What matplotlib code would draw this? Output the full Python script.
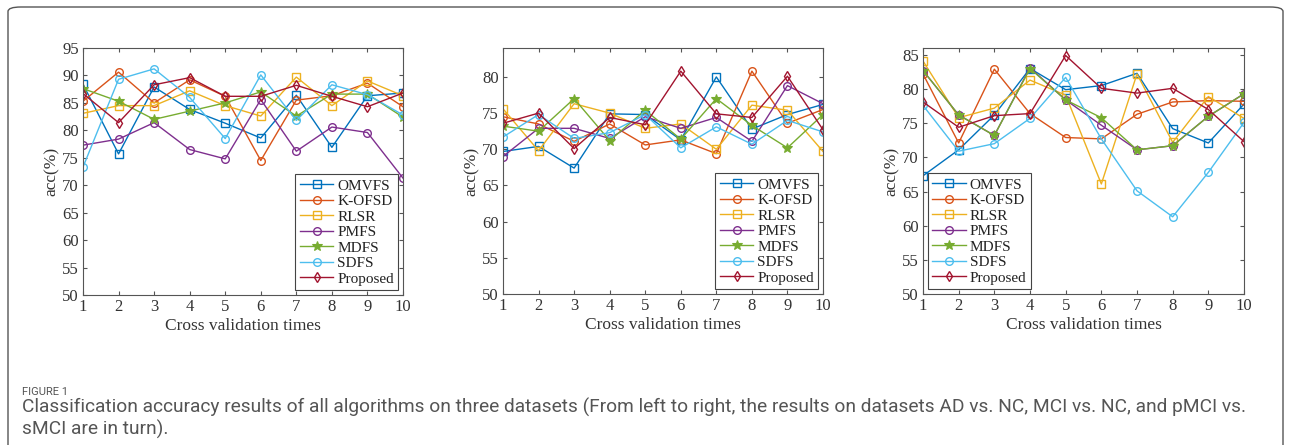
import matplotlib
matplotlib.use("Agg")
import matplotlib.pyplot as plt
from matplotlib.patches import FancyBboxPatch

x_times = [1, 2, 3, 4, 5, 6, 7, 8, 9, 10]
methods = ["OMVFS", "K-OFSD", "RLSR", "PMFS", "MDFS", "SDFS", "Proposed"]
colors = ["#0072BD", "#D95319", "#EDB120", "#7E2F8E", "#77AC30", "#4DBEEE", "#A2142F"]
markers = ["s", "o", "s", "o", "*", "o", "d"]

# AD vs. NC
ad_omvfs = [88.4, 75.7, 87.9, 83.8, 81.3, 78.6, 86.4, 76.9, 86.3, 86.8]
ad_kofsd = [85.3, 90.6, 85.0, 89.2, 86.2, 74.5, 85.5, 86.3, 88.6, 84.3]
ad_rlsr = [83.1, 84.5, 84.5, 87.2, 84.5, 82.6, 89.7, 84.5, 89.0, 86.3]
ad_pmfs = [77.3, 78.4, 81.4, 76.5, 74.8, 85.6, 76.2, 80.6, 79.6, 71.3]
ad_mdfs = [87.6, 85.3, 82.0, 83.5, 85.0, 87.0, 82.6, 86.6, 86.6, 82.4]
ad_sdfs = [73.3, 89.3, 91.2, 86.0, 78.5, 90.1, 81.8, 88.3, 86.5, 82.8]
ad_prop = [86.7, 81.4, 88.3, 89.6, 86.2, 86.2, 88.2, 86.2, 84.3, 86.8]

# MCI vs. NC
mci_omvfs = [69.7, 70.4, 67.4, 74.9, 74.8, 71.3, 80.0, 72.8, 74.8, 76.2]
mci_kofsd = [74.5, 73.5, 71.1, 73.5, 70.6, 71.3, 69.4, 80.8, 73.6, 75.5]
mci_rlsr = [75.6, 69.8, 76.3, 75.0, 72.9, 73.5, 70.0, 76.1, 75.4, 69.7]
mci_pmfs = [69.0, 72.9, 72.9, 71.5, 74.5, 72.9, 74.4, 71.1, 78.8, 76.3]
mci_mdfs = [73.2, 72.5, 77.0, 71.2, 75.4, 71.4, 77.0, 73.3, 70.2, 74.8]
mci_sdfs = [71.7, 74.8, 71.5, 72.3, 74.8, 70.2, 73.1, 70.7, 74.0, 72.4]
mci_prop = [73.6, 75.0, 70.1, 74.4, 73.4, 80.8, 74.9, 74.4, 80.1, 72.7]

# pMCI vs. sMCI
pm_omvfs = [67.3, 71.1, 76.2, 83.0, 79.9, 80.5, 82.3, 74.2, 72.1, 77.8]
pm_kofsd = [82.2, 72.1, 82.9, 76.4, 72.9, 72.7, 76.3, 78.1, 78.3, 78.2]
pm_rlsr = [84.1, 75.8, 77.2, 81.3, 79.1, 66.1, 82.2, 72.2, 78.9, 75.7]
pm_pmfs = [82.7, 76.2, 73.2, 83.1, 78.4, 74.7, 71.1, 71.7, 76.0, 79.3]
pm_mdfs = [82.7, 76.2, 73.2, 83.0, 78.4, 75.8, 71.1, 71.7, 76.0, 79.3]
pm_sdfs = [77.6, 70.9, 72.0, 75.7, 81.7, 72.7, 65.1, 61.3, 67.8, 75.1]
pm_prop = [78.1, 74.4, 76.1, 76.4, 84.9, 80.1, 79.4, 80.1, 77.0, 72.3]

datasets = [
    [ad_omvfs, ad_kofsd, ad_rlsr, ad_pmfs, ad_mdfs, ad_sdfs, ad_prop],
    [mci_omvfs, mci_kofsd, mci_rlsr, mci_pmfs, mci_mdfs, mci_sdfs, mci_prop],
    [pm_omvfs, pm_kofsd, pm_rlsr, pm_pmfs, pm_mdfs, pm_sdfs, pm_prop],
]
ylims = [(50, 95), (50, 84), (50, 86)]
yticks = [list(range(50, 96, 5)), list(range(50, 81, 5)), list(range(50, 86, 5))]
legend_locs = ["lower right", "lower right", "lower left"]

plt.rcParams["font.family"] = ["Liberation Serif", "DejaVu Serif"]

W, H = 1290, 445
fig = plt.figure(figsize=(W / 100, H / 100), dpi=100)

# outer frame
frame = FancyBboxPatch((8 / W, -0.05), (1283 - 8) / W, (H - 7) / H + 0.05,
                       boxstyle="round,pad=0,rounding_size=0.01",
                       transform=fig.transFigure, fill=False,
                       edgecolor="#555555", linewidth=1.0)
fig.patches.append(frame)

axes_px = [(83, 403, 48, 295), (503, 823, 48, 294), (923, 1244, 48, 294)]
axcol = "#555555"

for i, (l, r, t, b) in enumerate(axes_px):
    ax = fig.add_axes([l / W, 1 - b / H, (r - l) / W, (b - t) / H])
    for j, name in enumerate(methods):
        star = markers[j] == "*"
        ax.plot(x_times, datasets[i][j], color=colors[j], marker=markers[j],
                markersize=7 if star else 5.5,
                markerfacecolor=colors[j] if star else "none",
                markeredgewidth=0.8 if star else 1.0,
                linewidth=1.0, label=name)
    ax.set_xlim(1, 10)
    ax.set_ylim(*ylims[i])
    ax.set_xticks(x_times)
    ax.set_yticks(yticks[i])
    ax.tick_params(direction="in", top=True, right=True, length=3,
                   color=axcol, labelcolor="#333333", labelsize=12, pad=3)
    for s in ax.spines.values():
        s.set_color(axcol)
        s.set_linewidth(0.8)
    ax.set_xlabel("Cross validation times", fontsize=12.5,
                  color="#333333", labelpad=2)
    ax.set_ylabel("acc(%)", fontsize=12.5, color="#333333", labelpad=2)
    leg = ax.legend(loc=legend_locs[i], prop={"size": 11},
                    handlelength=2.2, handletextpad=0.25, labelspacing=0.12,
                    borderpad=0.3, fancybox=False, framealpha=1,
                    edgecolor="#444444", borderaxespad=0.3)
    leg.get_frame().set_linewidth(0.8)
    for txt in leg.get_texts():
        txt.set_color("#222222")

sans = ["Roboto", "DejaVu Sans"]
fig.text(22 / W, 1 - 392 / H, "FIGURE 1", family=sans, fontsize=8,
         color="#555555", va="center", ha="left")
fig.text(22 / W, 1 - 407 / H,
         "Classification accuracy results of all algorithms on three datasets (From left to right, the results on datasets AD vs. NC, MCI vs. NC, and pMCI vs.",
         family=sans, fontsize=13.8, color="#555555", va="center", ha="left")
fig.text(22 / W, 1 - 429 / H, "sMCI are in turn).",
         family=sans, fontsize=13.8, color="#555555", va="center", ha="left")

fig.savefig("out.png", dpi=100)
